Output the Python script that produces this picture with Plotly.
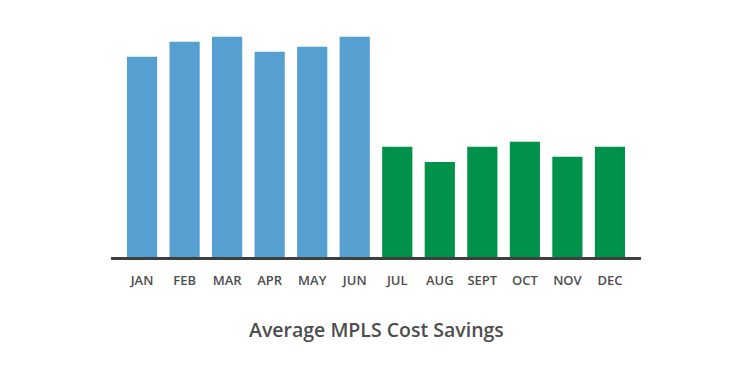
import plotly.graph_objects as go

months = ["JAN", "FEB", "MAR", "APR", "MAY", "JUN", "JUL", "AUG", "SEPT", "OCT", "NOV", "DEC"]
savings = [200, 215, 220, 205, 210, 220, 110, 95, 110, 115, 100, 110]
bar_colors = ["#559fd1"] * 6 + ["#00924a"] * 6
title_text = "Average MPLS Cost Savings"

fig = go.Figure(go.Bar(x=months, y=savings, marker=dict(color=bar_colors, line=dict(width=0)), width=0.71))

fig.update_layout(
    width=742, height=372,
    margin=dict(l=103, r=109, t=12, b=123),
    plot_bgcolor="white", paper_bgcolor="white",
    showlegend=False,
    xaxis=dict(range=[-0.73, 11.73], showline=True, linecolor="#3f3f3f", linewidth=3,
               showgrid=False, zeroline=False, ticks="", ticklabelstandoff=9,
               tickfont=dict(family="Open Sans", size=13, color="#4d4d4d", weight=600)),
    yaxis=dict(range=[0, 236.7], visible=False, showgrid=False, zeroline=False),
    annotations=[dict(text=title_text, x=0.5, y=-0.305, xref="paper", yref="paper",
                      xanchor="center", yanchor="middle", showarrow=False,
                      font=dict(family="Open Sans", size=19.5, color="#4d4d4d", weight=600))],
)

fig.write_html("out.html")
